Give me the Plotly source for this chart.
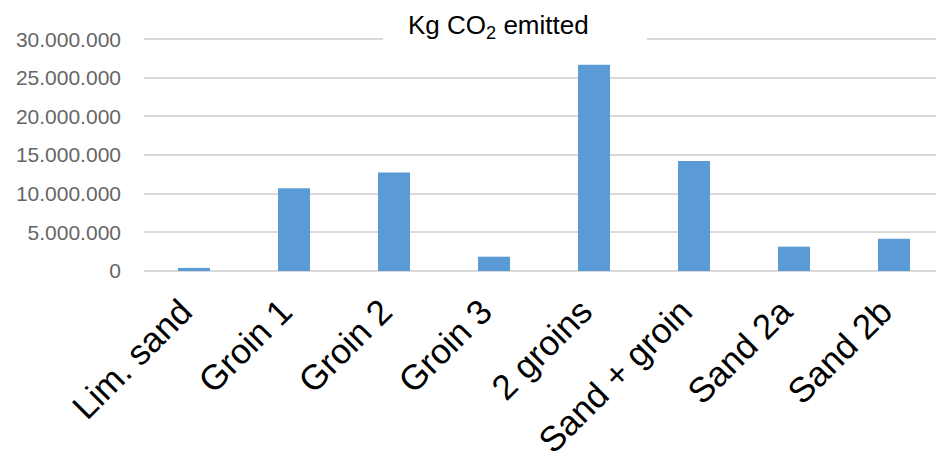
import plotly.graph_objects as go

categories = ["Lim. sand", "Groin 1", "Groin 2", "Groin 3", "2 groins", "Sand + groin", "Sand 2a", "Sand 2b"]
co2_emitted = [400000, 10700000, 12750000, 1850000, 26700000, 14250000, 3150000, 4180000]
y_ticks = [0, 5000000, 10000000, 15000000, 20000000, 25000000, 30000000]

fig = go.Figure()
fig.add_trace(go.Bar(
    x=categories, y=co2_emitted,
    marker=dict(color="#5b9bd5", line=dict(width=0)),
    hoverinfo="x+y",
))

fig.update_layout(
    width=936, height=466,
    margin=dict(l=144, r=0, t=38, b=195, autoexpand=False),
    paper_bgcolor="white", plot_bgcolor="white",
    separators=",.",
    showlegend=False,
    bargap=0.68,
    font=dict(family="Liberation Sans, Arial, sans-serif"),
)
fig.update_xaxes(
    range=[-0.5, 7.42],
    tickangle=-45,
    tickfont=dict(size=35, color="black", family="Liberation Sans, Arial, sans-serif"),
    showgrid=False, showline=False, ticks="",
    ticklabelshift=-12, ticklabelstandoff=12,
)
fig.update_yaxes(
    range=[0, 30150000],
    tickvals=y_ticks,
    tickformat=",",
    tickfont=dict(size=21, color="#666666", family="Liberation Sans, Arial, sans-serif"),
    showgrid=True, gridcolor="#d9d9d9", gridwidth=1.5,
    zeroline=True, zerolinecolor="#d9d9d9", zerolinewidth=1.5,
    ticks="", ticklabelstandoff=22,
)
fig.add_shape(type="rect", xref="paper", yref="paper",
              x0=0.302, x1=0.635, y0=0.974, y1=1.02,
              fillcolor="white", line=dict(width=0), layer="above")
fig.add_annotation(
    text="Kg CO<sub>2</sub> emitted", xref="paper", yref="paper",
    x=0.448, y=1.05, xanchor="center", yanchor="middle",
    showarrow=False, font=dict(size=26, color="black", family="Liberation Sans, Arial, sans-serif"),
)

fig.write_html("out.html")
